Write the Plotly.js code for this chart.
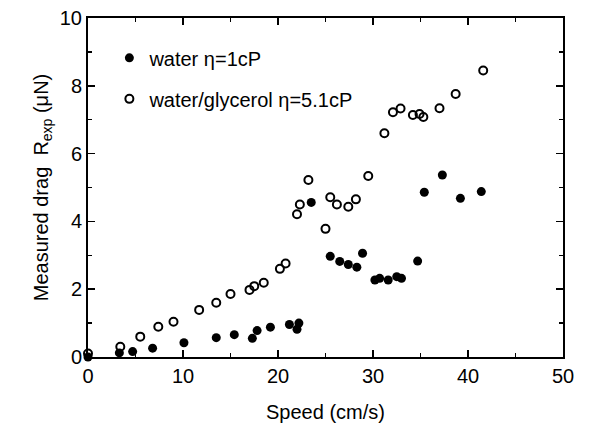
<!DOCTYPE html>
<html>
<head>
<meta charset="utf-8">
<script src="https://cdn.plot.ly/plotly-3.0.1.min.js"></script>
<style>html,body{margin:0;padding:0;background:#fff;}#chart{width:592px;height:427px;}</style>
</head>
<body>
<div id="chart"></div>
<script>
const waterSpeed = [0, 3.3, 4.7, 6.8, 10.1, 13.5, 15.4, 17.3, 17.8, 19.2, 21.2, 22.0, 22.2, 23.5, 25.5, 26.5, 27.4, 28.3, 28.9, 30.2, 30.7, 31.6, 32.5, 33.0, 34.7, 35.4, 37.3, 39.2, 41.4];
const waterDrag  = [0, 0.12, 0.16, 0.26, 0.42, 0.57, 0.66, 0.55, 0.78, 0.88, 0.96, 0.82, 1.0, 4.56, 2.97, 2.82, 2.73, 2.65, 3.06, 2.27, 2.32, 2.27, 2.37, 2.32, 2.83, 4.86, 5.37, 4.68, 4.88];
const glySpeed = [0, 3.4, 5.5, 7.4, 9.0, 11.7, 13.5, 15.0, 17.0, 17.5, 18.5, 20.2, 20.8, 22.0, 22.3, 23.2, 25.0, 25.5, 26.2, 27.4, 28.2, 29.5, 31.2, 32.1, 32.9, 34.2, 34.9, 35.3, 37.0, 38.7, 41.6];
const glyDrag  = [0.1, 0.3, 0.6, 0.89, 1.04, 1.39, 1.6, 1.86, 1.98, 2.09, 2.19, 2.6, 2.76, 4.21, 4.5, 5.22, 3.78, 4.71, 4.5, 4.43, 4.65, 5.34, 6.6, 7.22, 7.33, 7.14, 7.17, 7.08, 7.34, 7.76, 8.45];
const seriesNames = ['water η=1cP', 'water/glycerol η=5.1cP'];
const xTicks = [0, 10, 20, 30, 40, 50];
const yTicks = [0, 2, 4, 6, 8, 10];

const FONT = 'Liberation Sans, Arial, Helvetica, sans-serif';
const FS = 20;

const traces = [
  {x: waterSpeed, y: waterDrag, name: seriesNames[0], type: 'scatter', mode: 'markers',
   legendgroup: 'a', cliponaxis: false,
   marker: {symbol: 'circle', size: 9, color: '#000'}},
  {x: glySpeed, y: glyDrag, name: seriesNames[1], type: 'scatter', mode: 'markers',
   legendgroup: 'b', cliponaxis: false,
   marker: {symbol: 'circle-open', size: 8, color: '#000', line: {width: 2, color: '#000'}}}
];

const axisCommon = {
  showgrid: false, zeroline: false, showline: true, linecolor: '#000', linewidth: 2,
  mirror: 'ticks', ticks: 'inside', ticklen: 7, tickwidth: 1.5, tickcolor: '#000',
  tickfont: {family: FONT, size: FS, color: '#000'},
  minor: {ticks: 'inside', ticklen: 4, tickwidth: 1.5, tickcolor: '#000'}
};

const layout = {
  width: 592, height: 427,
  margin: {l: 88, r: 29, t: 18, b: 70},
  paper_bgcolor: '#fff', plot_bgcolor: '#fff',
  font: {family: FONT, color: '#000', size: FS},
  showlegend: true,
  legend: {x: 0.045, y: 0.94, xanchor: 'left', yanchor: 'top', bgcolor: 'rgba(0,0,0,0)',
           font: {family: FONT, size: FS, color: '#000'}, tracegroupgap: 12, traceorder: 'grouped'},
  xaxis: Object.assign({}, axisCommon, {
    range: [0, 50], tickvals: xTicks, ticktext: xTicks.map(String),
    minor: Object.assign({}, axisCommon.minor, {dtick: 5, tick0: 0}),
    title: {text: 'Speed (cm/s)', font: {family: FONT, size: FS, color: '#000'}, standoff: 19}
  }),
  yaxis: Object.assign({}, axisCommon, {
    range: [0, 10], tickvals: yTicks, ticktext: yTicks.map(String),
    minor: Object.assign({}, axisCommon.minor, {dtick: 1, tick0: 0}),
    title: {text: 'Measured drag  R<sub>exp</sub> (μN)', font: {family: FONT, size: FS, color: '#000'}, standoff: 6}
  })
};

Plotly.newPlot('chart', traces, layout, {staticPlot: true, displayModeBar: false});
</script>
</body>
</html>
